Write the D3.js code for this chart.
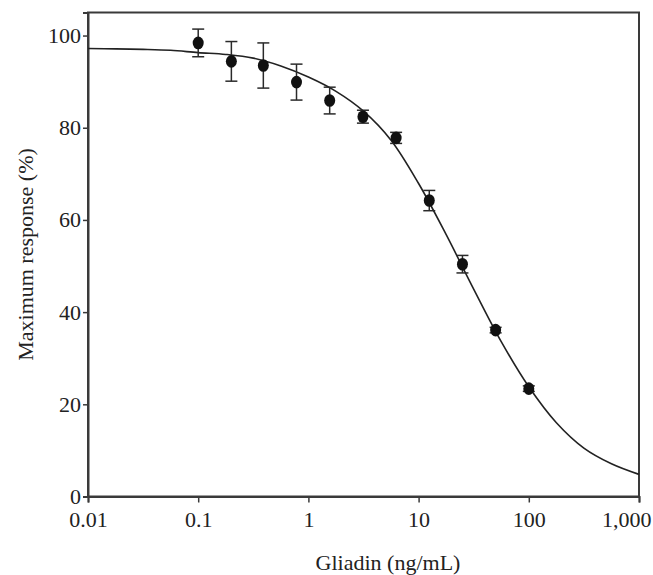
<!DOCTYPE html>
<html>
<head>
<meta charset="utf-8">
<script src="https://cdn.jsdelivr.net/npm/d3@7"></script>
<style>
  body { margin: 0; background: #fff; }
  svg { display: block; font-family: "Liberation Serif", "DejaVu Serif", serif; }
</style>
</head>
<body>
<div id="chart"></div>
<script>

const doses = [0.1, 0.2, 0.39, 0.78, 1.56, 3.125, 6.25, 12.5, 25, 50, 100];
const responses = [98.4, 94.4, 93.5, 89.9, 85.9, 82.4, 77.8, 64.2, 50.4, 36.1, 23.4];
const errors = [3.0, 4.3, 4.9, 3.9, 2.9, 1.4, 1.2, 2.2, 1.9, 0.6, 0.6];

// fitted curve, sampled every quarter decade from 0.01 to 1000
const curveDoses = [0.01, 0.0178, 0.0316, 0.0562, 0.1, 0.178, 0.316, 0.562, 1, 1.78, 3.16,
  5.62, 10, 17.8, 31.6, 56.2, 100, 178, 316, 562, 1000];
const curveResponses = [97.2, 97.1, 97.0, 96.8, 96.3, 95.9, 95.1, 93.4, 91.0, 87.9, 83.6,
  77.3, 67.9, 56.8, 45.0, 33.6, 23.8, 16.0, 10.5, 7.1, 4.8];

const xTicks = [0.01, 0.1, 1, 10, 100, 1000];
const xTickLabels = ['0.01', '0.1', '1', '10', '100', '1,000'];
const yTicks = [0, 20, 40, 60, 80, 100];

const width = 653;
const height = 575;
const margin = {top: 12.5, right: 14, bottom: 78.5, left: 88};
const ink = '#222';

const svg = d3.select('#chart').append('svg')
  .attr('width', width)
  .attr('height', height);

const x = d3.scaleLog()
  .domain([0.01, 1000])
  .range([margin.left, width - margin.right]);

const y = d3.scaleLinear()
  .domain([0, 105])
  .range([height - margin.bottom, margin.top]);

// frame
svg.append('rect')
  .attr('x', margin.left)
  .attr('y', margin.top)
  .attr('width', width - margin.left - margin.right)
  .attr('height', height - margin.top - margin.bottom)
  .attr('fill', 'none')
  .attr('stroke', '#3a3a3a')
  .attr('stroke-width', 2);

// X axis
const xAxis = svg.append('g')
  .attr('transform', `translate(0,${height - margin.bottom})`)
  .call(d3.axisBottom(x)
    .tickValues(xTicks)
    .tickFormat((d, i) => xTickLabels[i])
    .tickSize(6)
    .tickPadding(9));
xAxis.select('.domain').attr('stroke', '#3a3a3a').attr('stroke-width', 2);
xAxis.selectAll('.tick line').attr('stroke', '#3a3a3a').attr('stroke-width', 1.5);
xAxis.selectAll('text')
  .attr('fill', ink)
  .attr('font-size', '22px')
  .attr('font-family', '"Liberation Serif", serif');
// last label sits flush with the right edge, as in the original
xAxis.selectAll('.tick text')
  .filter(d => d === 1000)
  .attr('text-anchor', 'end')
  .attr('x', 12);

// Y axis
const yAxis = svg.append('g')
  .attr('transform', `translate(${margin.left},0)`)
  .call(d3.axisLeft(y)
    .tickValues(yTicks)
    .tickSize(5)
    .tickPadding(2));
yAxis.select('.domain').attr('stroke', '#3a3a3a').attr('stroke-width', 2);
yAxis.selectAll('.tick line').attr('stroke', '#3a3a3a').attr('stroke-width', 1.5);
yAxis.selectAll('text')
  .attr('fill', ink)
  .attr('font-size', '22px')
  .attr('font-family', '"Liberation Serif", serif');

// axis titles
svg.append('text')
  .attr('x', 388)
  .attr('y', 570)
  .attr('text-anchor', 'middle')
  .attr('fill', ink)
  .attr('font-size', '22px')
  .text('Gliadin (ng/mL)');

svg.append('text')
  .attr('transform', `translate(33,${(margin.top + height - margin.bottom) / 2}) rotate(-90)`)
  .attr('text-anchor', 'middle')
  .attr('fill', ink)
  .attr('font-size', '22px')
  .text('Maximum response (%)');

// fitted curve
const curveData = curveDoses.map((d, i) => ({dose: d, value: curveResponses[i]}));
svg.append('path')
  .datum(curveData)
  .attr('fill', 'none')
  .attr('stroke', ink)
  .attr('stroke-width', 1.6)
  .attr('d', d3.line()
    .x(d => x(d.dose))
    .y(d => y(d.value))
    .curve(d3.curveCatmullRom));

// error bars
const points = doses.map((d, i) => ({dose: d, value: responses[i], err: errors[i]}));
const bars = svg.append('g')
  .attr('stroke', '#2a2a2a')
  .attr('stroke-width', 1.5);

bars.selectAll('.stem')
  .data(points)
  .enter().append('line')
  .attr('class', 'stem')
  .attr('x1', d => x(d.dose))
  .attr('x2', d => x(d.dose))
  .attr('y1', d => y(d.value + d.err))
  .attr('y2', d => y(d.value - d.err));

bars.selectAll('.cap-top')
  .data(points)
  .enter().append('line')
  .attr('class', 'cap-top')
  .attr('x1', d => x(d.dose) - 6)
  .attr('x2', d => x(d.dose) + 6)
  .attr('y1', d => y(d.value + d.err))
  .attr('y2', d => y(d.value + d.err));

bars.selectAll('.cap-bottom')
  .data(points)
  .enter().append('line')
  .attr('class', 'cap-bottom')
  .attr('x1', d => x(d.dose) - 6)
  .attr('x2', d => x(d.dose) + 6)
  .attr('y1', d => y(d.value - d.err))
  .attr('y2', d => y(d.value - d.err));

// markers
svg.selectAll('.marker')
  .data(points)
  .enter().append('ellipse')
  .attr('class', 'marker')
  .attr('cx', d => x(d.dose))
  .attr('cy', d => y(d.value))
  .attr('rx', 5.5)
  .attr('ry', 6.3)
  .attr('fill', '#111');
</script>
</body>
</html>
